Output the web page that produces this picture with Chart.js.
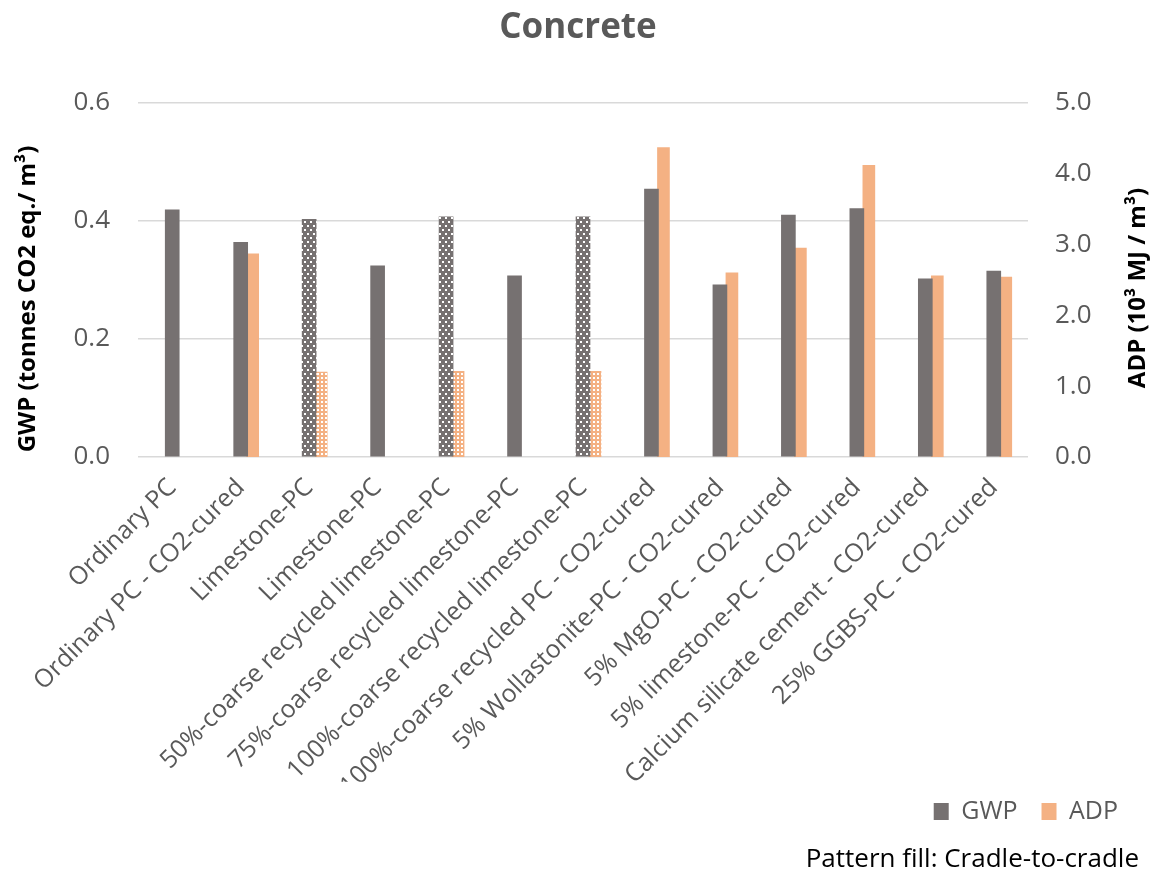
<!DOCTYPE html>
<html>
<head>
<meta charset="utf-8">
<title>Concrete</title>
<script src="https://cdn.jsdelivr.net/npm/chart.js@4.4.1/dist/chart.umd.min.js"></script>
<style>
  html, body { margin: 0; padding: 0; background: #ffffff; }
  canvas { display: block; }
</style>
</head>
<body>
<canvas id="chart" width="1156" height="872"></canvas>
<script>
// Concrete mixes compared on global warming potential and abiotic depletion
const categories = [
  'Ordinary PC',
  'Ordinary PC - CO2-cured',
  'Limestone-PC',
  'Limestone-PC',
  '50%-coarse recycled limestone-PC',
  '75%-coarse recycled limestone-PC',
  '100%-coarse recycled limestone-PC',
  '100%-coarse recycled PC - CO2-cured',
  '5% Wollastonite-PC - CO2-cured',
  '5% MgO-PC - CO2-cured',
  '5% limestone-PC - CO2-cured',
  'Calcium silicate cement - CO2-cured',
  '25% GGBS-PC - CO2-cured'
];

// GWP, tonnes CO2 eq. per m³ (left axis)
const gwpValues = [0.419, 0.364, 0.403, 0.324, 0.407, 0.307, 0.407, 0.454, 0.292, 0.410, 0.421, 0.302, 0.315];

// ADP, 10³ MJ per m³ (right axis); null where not reported
const adpValues = [null, 2.87, 1.20, null, 1.21, null, 1.21, 4.37, 2.60, 2.95, 4.12, 2.56, 2.54];

// Cradle-to-cradle results are drawn with a pattern fill
const cradleToCradle = [false, false, true, false, true, false, true, false, false, false, false, false, false];

const gwpTickLabels = ['0.0', '0.2', '0.4', '0.6'];
const adpTickLabels = ['0.0', '1.0', '2.0', '3.0', '4.0', '5.0'];

const FONT = '"Open Sans", "DejaVu Sans", sans-serif';
const GREY = '#767171';
const ORANGE = '#F4B183';
const TEXT = '#595959';
const FOOTNOTE = 'Pattern fill: Cradle-to-cradle';

// Dotted grey tile for cradle-to-cradle GWP bars
function dottedPattern() {
  const c = document.createElement('canvas');
  c.width = 6; c.height = 8;
  const g = c.getContext('2d');
  g.fillStyle = GREY;
  g.fillRect(0, 0, 6, 8);
  g.fillStyle = '#ffffff';
  g.fillRect(1, 1, 2, 2);
  g.fillRect(4, 5, 2, 2);
  return g.createPattern(c, 'repeat');
}

// Fine white grid on orange for cradle-to-cradle ADP bars
function gridPattern() {
  const c = document.createElement('canvas');
  c.width = 4; c.height = 4;
  const g = c.getContext('2d');
  g.fillStyle = ORANGE;
  g.fillRect(0, 0, 4, 4);
  g.fillStyle = '#ffffff';
  g.fillRect(1, 1, 2, 2);
  return g.createPattern(c, 'repeat');
}

const gwpPattern = dottedPattern();
const adpPattern = gridPattern();

function fillFor(plain, pattern) {
  return ctx => (ctx.type === 'data' && cradleToCradle[ctx.dataIndex]) ? pattern : plain;
}

// Axis titles read bottom-to-top on both sides
const axisTitles = {
  id: 'axisTitles',
  afterDraw(chart) {
    const { ctx, chartArea } = chart;
    const mid = (chartArea.top + chartArea.bottom) / 2;
    const items = [
      { text: 'GWP (tonnes CO2 eq./ m³)', x: chart.scales.y.left + 28, y: mid + 19 },
      { text: 'ADP (10³ MJ / m³)', x: chart.scales.y2.right - 18, y: mid + 8 }
    ];
    ctx.save();
    ctx.font = 'bold 24px ' + FONT;
    ctx.fillStyle = '#000000';
    ctx.textAlign = 'center';
    ctx.textBaseline = 'middle';
    for (const it of items) {
      ctx.save();
      ctx.translate(it.x, it.y);
      ctx.rotate(-Math.PI / 2);
      ctx.fillText(it.text, 0, 0);
      ctx.restore();
    }
    ctx.restore();
  }
};

// Place the legend and the footnote in the lower right corner
const bottomBlocks = {
  id: 'bottomBlocks',
  afterLayout(chart) {
    const lg = chart.legend;
    if (lg) {
      lg.right = 1142;
      lg.width = lg.right - lg.left;
      const h = lg.height;
      lg.top = 775;
      lg.bottom = lg.top + h;
    }
    for (const box of chart.boxes) {
      if (box.options && box.options.text === FOOTNOTE) {
        box.right = 1139;
        box.width = box.right - box.left;
        const h = box.height;
        box.top = 844;
        box.bottom = box.top + h;
      }
    }
  }
};

new Chart(document.getElementById('chart'), {
  type: 'bar',
  data: {
    labels: categories,
    datasets: [
      {
        // empty slot that keeps GWP bars centred on their category
        label: '',
        data: categories.map(() => null),
        backgroundColor: 'rgba(0,0,0,0)',
        barThickness: 14,
        yAxisID: 'y'
      },
      {
        label: 'GWP',
        data: gwpValues,
        backgroundColor: fillFor(GREY, gwpPattern),
        barThickness: 14,
        yAxisID: 'y'
      },
      {
        label: 'ADP',
        data: adpValues,
        backgroundColor: fillFor(ORANGE, adpPattern),
        barThickness: 12,
        yAxisID: 'y2'
      }
    ]
  },
  options: {
    responsive: false,
    animation: false,
    devicePixelRatio: 1,
    layout: { padding: 0 },
    plugins: {
      title: {
        display: true,
        text: 'Concrete',
        color: TEXT,
        font: { family: FONT, size: 35, weight: 'bold' },
        padding: { top: 7, bottom: 54 }
      },
      subtitle: {
        display: true,
        position: 'bottom',
        align: 'end',
        text: FOOTNOTE,
        color: '#000000',
        font: { family: FONT, size: 26, weight: 'normal' },
        padding: 0
      },
      legend: {
        display: true,
        position: 'bottom',
        align: 'end',
        labels: {
          boxWidth: 15,
          boxHeight: 17,
          padding: 24,
          color: TEXT,
          font: { family: FONT, size: 25 },
          filter: item => item.text !== ''
        }
      },
      tooltip: { enabled: false }
    },
    scales: {
      x: {
        grid: { display: false },
        border: { display: false },
        ticks: {
          autoSkip: false,
          maxRotation: 45,
          minRotation: 45,
          padding: 8,
          color: TEXT,
          font: { family: FONT, size: 25 }
        },
        afterFit(scale) {
          // leave the plot floor at y = 457 whatever the legend and footnote take
          let used = 0;
          for (const b of scale.chart.boxes) {
            if (b !== scale && b.position === 'bottom' && b.fullSize) used += b.height;
          }
          scale.height = 872 - 457 - used;
        }
      },
      y: {
        position: 'left',
        min: 0,
        max: 0.6,
        ticks: {
          stepSize: 0.2,
          padding: 28,
          color: TEXT,
          font: { family: FONT, size: 26 },
          callback: (v, i) => gwpTickLabels[i]
        },
        grid: { color: '#D9D9D9', lineWidth: 1.5, drawTicks: false },
        border: { display: false },
        afterFit(scale) { scale.width = 138; }
      },
      y2: {
        position: 'right',
        min: 0,
        max: 5,
        ticks: {
          stepSize: 1,
          padding: 27,
          color: TEXT,
          font: { family: FONT, size: 26 },
          callback: (v, i) => adpTickLabels[i]
        },
        grid: { display: false, drawTicks: false },
        border: { display: false },
        afterFit(scale) { scale.width = 128; }
      }
    }
  },
  plugins: [axisTitles, bottomBlocks]
});
</script>
</body>
</html>
